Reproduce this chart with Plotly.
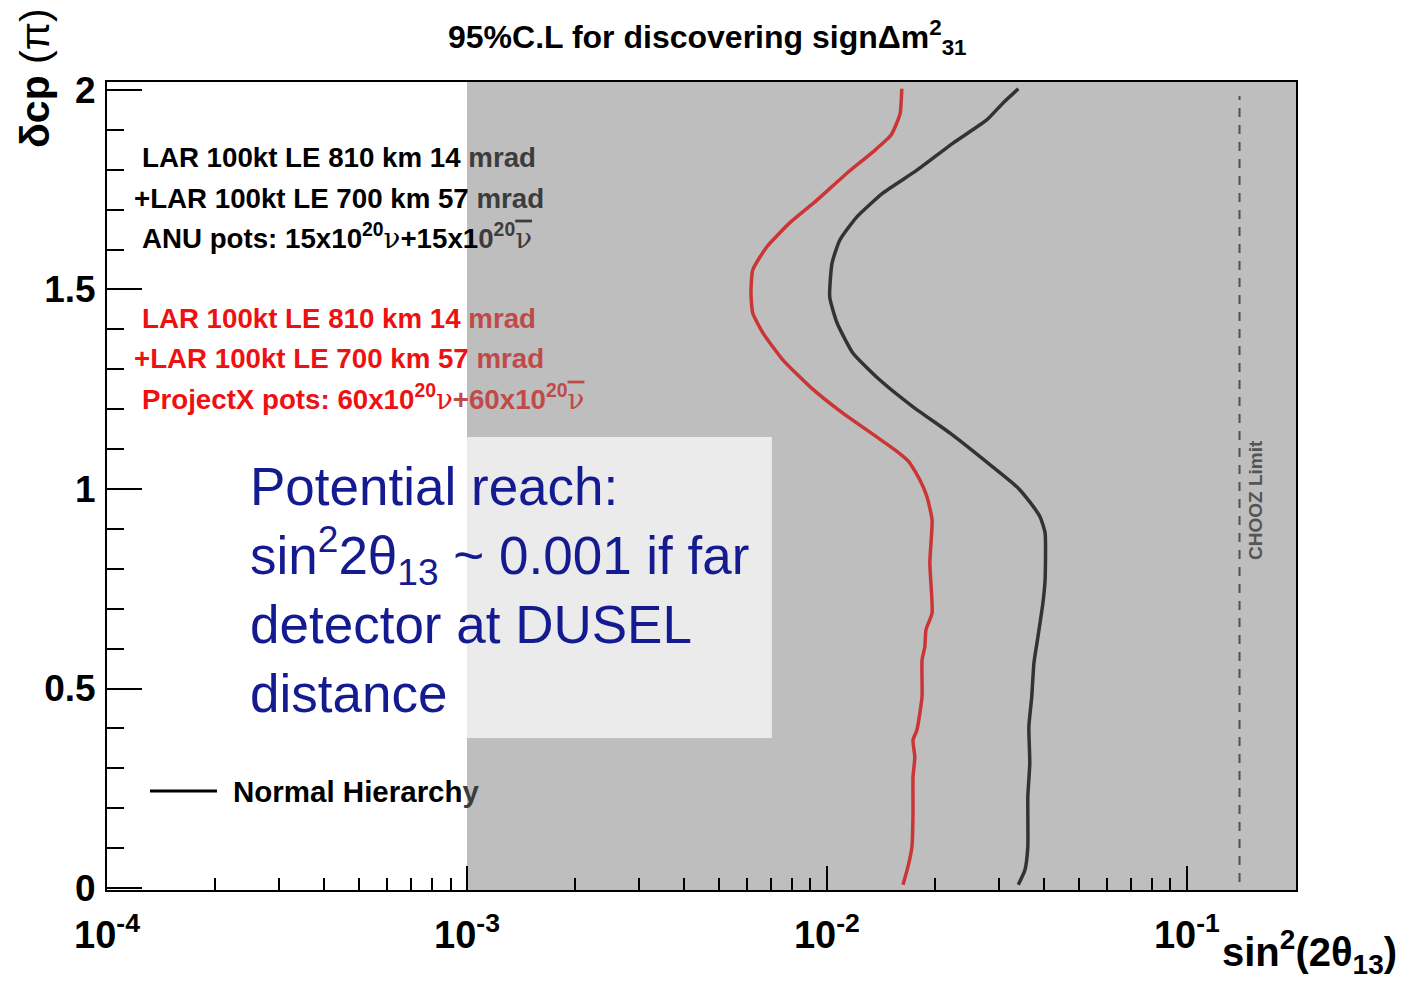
import plotly.graph_objects as go

# ---------------- data ----------------
# red curve: LAR 100kt ... ProjectX pots
delta_cp_red = [2.003, 1.940, 1.887, 1.845, 1.792, 1.724, 1.667, 1.607, 1.549, 1.491,
                1.441, 1.391, 1.323, 1.256, 1.190, 1.130, 1.098, 1.068, 1.023, 0.980,
                0.922, 0.815, 0.689, 0.647, 0.604, 0.571, 0.479, 0.396, 0.371, 0.328,
                0.278, 0.188, 0.103, 0.053, 0.008]
sin2_red = [0.01614, 0.01596, 0.01507, 0.01343, 0.01138, 0.00938, 0.00788, 0.00681, 0.00622, 0.00615,
            0.00622, 0.00664, 0.00755, 0.00898, 0.01107, 0.01377, 0.01545, 0.01690, 0.01811, 0.01897,
            0.01959, 0.01931, 0.01959, 0.01884, 0.01870, 0.01837, 0.01837, 0.01778, 0.01734, 0.01754,
            0.01734, 0.01734, 0.01722, 0.01679, 0.01626]

# black curve: LAR 100kt ... ANU pots
delta_cp_black = [2.003, 1.967, 1.925, 1.867, 1.799, 1.742, 1.682, 1.624, 1.566, 1.481,
                  1.416, 1.341, 1.273, 1.206, 1.140, 1.055, 1.005, 0.967, 0.930,
                  0.890, 0.772, 0.714, 0.629, 0.564, 0.479, 0.404, 0.313, 0.228, 0.103,
                  0.045, 0.008]
sin2_black = [0.0340, 0.0308, 0.0278, 0.0224, 0.01778, 0.01432, 0.01211, 0.01086, 0.01033, 0.01018,
              0.01067, 0.0118, 0.01403, 0.01734, 0.02198, 0.02891, 0.03374, 0.03664, 0.03909,
              0.04036, 0.04036, 0.0398, 0.03855, 0.03758, 0.03706, 0.03638, 0.0366, 0.03614, 0.03614,
              0.03548, 0.0340]

chooz_limit = 0.14
chooz_dcp = [0.015, 1.985]

x_tick_vals = [1e-4, 1e-3, 1e-2, 1e-1]
x_tick_text = ["10<sup>-4</sup>", "10<sup>-3</sup>", "10<sup>-2</sup>", "10<sup>-1</sup>"]
y_tick_vals = [0, 0.5, 1, 1.5, 2]
y_tick_text = ["0", "0.5", "1", "1.5", "2"]

# shaded regions (x in sin^2 2theta13, y in delta_cp)
gray_x0 = 1e-3
box_x = [1e-3, 0.00703]
box_y = [0.376, 1.130]

# ---------------- layout helpers ----------------
W, H = 1403, 981
L, R, T, B = 107, 1296, 82, 890
X_LOG_MAX = -0.697


def pxx(x):
    return (x - L) / (R - L)


def pxy(y):
    return (B - y) / (B - T)


FONT = "Liberation Sans, Arial, Helvetica, sans-serif"
BLACK_T = "#000000"
BLACK_G = "#3c3c3c"
RED_T = "#ee1111"
RED_G = "#c04a4a"

fig = go.Figure()

fig.add_trace(go.Scatter(x=sin2_red, y=delta_cp_red, mode="lines",
                         line=dict(color="#cc3535", width=3.5, shape="spline", smoothing=0.5),
                         showlegend=False, hoverinfo="skip"))
fig.add_trace(go.Scatter(x=sin2_black, y=delta_cp_black, mode="lines",
                         line=dict(color="#333333", width=3.5, shape="spline", smoothing=0.5),
                         showlegend=False, hoverinfo="skip"))
fig.add_trace(go.Scatter(x=[chooz_limit, chooz_limit], y=chooz_dcp, mode="lines",
                         line=dict(color="#505050", width=2, dash="9px,8px"),
                         showlegend=False, hoverinfo="skip"))

shapes = [
    dict(type="rect", xref="x", yref="paper", x0=gray_x0, x1=10 ** X_LOG_MAX, y0=0, y1=1,
         fillcolor="#bebebe", line=dict(width=0), layer="below"),
    dict(type="rect", xref="x", yref="y", x0=box_x[0], x1=box_x[1], y0=box_y[0], y1=box_y[1],
         fillcolor="#ebebeb", line=dict(width=0), layer="below"),
    # legend sample line
    dict(type="line", xref="paper", yref="paper", x0=pxx(150), x1=pxx(217), y0=pxy(791), y1=pxy(791),
         line=dict(color="black", width=3)),
]

annotations = []


def ann(text, x, y, size, color="black", xanchor="left", yanchor="middle", bold=True, angle=0, family=FONT):
    annotations.append(dict(text=text, x=pxx(x), y=pxy(y), xref="paper", yref="paper",
                            xanchor=xanchor, yanchor=yanchor, showarrow=False, textangle=angle,
                            align="left",
                            font=dict(size=size, color=color, family=family,
                                      weight="bold" if bold else "normal")))


def two(a, b, ca, cb):
    return f"<span style='color:{ca}'>{a}</span><span style='color:{cb}'>{b}</span>"


NU = "<span style='font-weight:normal;font-family:DejaVu Serif'>ν</span>"
NUB = "<span style='font-weight:normal;font-family:DejaVu Serif;text-decoration:overline'>ν</span>"
ann(two("LAR 100kt LE 810 km 14 ", "mrad", BLACK_T, BLACK_G), 140, 158, 27.7)
ann(two("+LAR 100kt LE 700 km 57 ", "mrad", BLACK_T, BLACK_G), 132, 198, 27.7)
ann(two(f"ANU pots: 15x10<sup>20</sup>{NU}+15x1", f"0<sup>20</sup>{NUB}", BLACK_T, BLACK_G), 140, 237, 27.7)
ann(two("LAR 100kt LE 810 km 14 ", "mrad", RED_T, RED_G), 140, 318, 27.7)
ann(two("+LAR 100kt LE 700 km 57 ", "mrad", RED_T, RED_G), 132, 358, 27.7)
ann(two(f"ProjectX pots: 60x10<sup>20</sup>{NU}", f"+60x10<sup>20</sup>{NUB}", RED_T, RED_G), 140, 397, 27.7)
ann(two("Normal Hierarch", "y", BLACK_T, BLACK_G), 231, 791, 29.5)

# blue overlay text
ann("Potential reach:<br>sin<sup>2</sup>2θ<sub>13</sub> ~ 0.001 if far<br>detector at DUSEL<br>distance",
    248, 590, 53, color="#141a8f", bold=False)

# CHOOZ label
ann("CHOOZ Limit", 1255, 500, 19, color="#555555", xanchor="center", angle=-90)

# title and axis titles
ann("95%C.L for discovering signΔm<sup>2</sup><sub>31</sub>", 707, 38, 32, xanchor="center")
ann("δcp <span style='font-weight:normal'>(π)</span>", 35, 78, 41, xanchor="center", angle=-90)
ann("sin<sup>2</sup>(2θ<sub>13</sub>)", 1399, 952, 40, xanchor="right")

fig.update_layout(
    width=W, height=H,
    margin=dict(l=L, r=W - R, t=T, b=H - B),
    paper_bgcolor="white", plot_bgcolor="white",
    showlegend=False,
    shapes=shapes, annotations=annotations,
    xaxis=dict(type="log", range=[-4, X_LOG_MAX], tickmode="array", tickvals=x_tick_vals,
               ticktext=x_tick_text, ticks="inside", ticklen=24, tickwidth=2, tickcolor="black",
               showline=True, linecolor="black", linewidth=2, mirror=True, showgrid=False,
               zeroline=False, ticklabelstandoff=10,
               tickfont=dict(family=FONT, size=38, color="black", weight="bold"),
               minor=dict(dtick="D1", ticks="inside", ticklen=12, tickwidth=2, tickcolor="black",
                          showgrid=False)),
    yaxis=dict(range=[-0.005, 2.020], tickmode="array", tickvals=y_tick_vals, ticktext=y_tick_text,
               ticks="inside", ticklen=35, tickwidth=2, tickcolor="black",
               showline=True, linecolor="black", linewidth=2, mirror=True, showgrid=False,
               zeroline=False, ticklabelstandoff=2,
               tickfont=dict(family=FONT, size=37, color="black", weight="bold"),
               minor=dict(dtick=0.1, tick0=0, ticks="inside", ticklen=17, tickwidth=2,
                          tickcolor="black", showgrid=False)),
)

fig.write_html("out.html")
